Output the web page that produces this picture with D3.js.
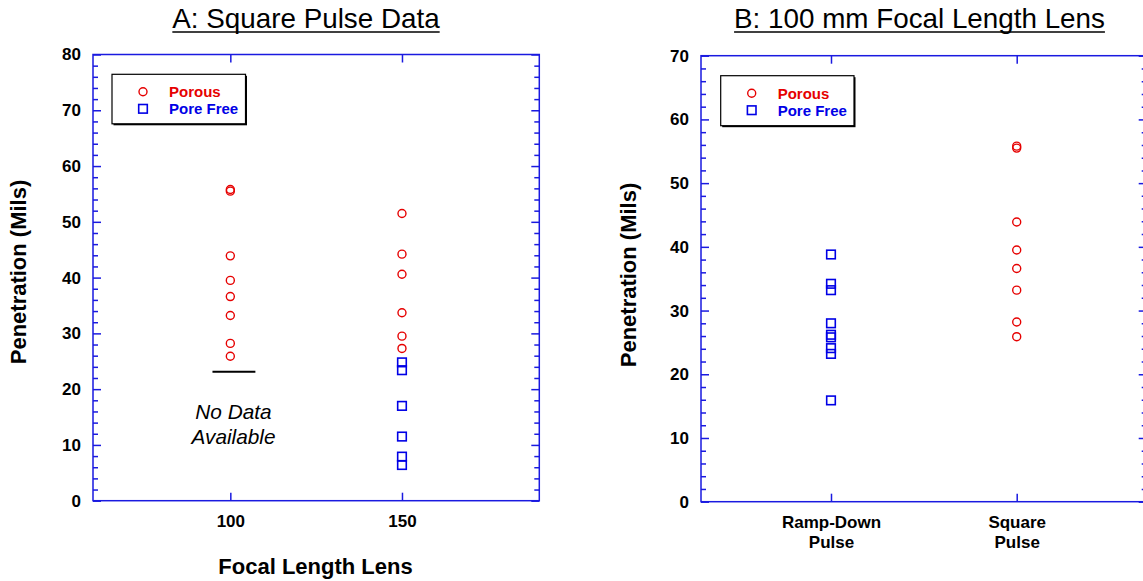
<!DOCTYPE html>
<html>
<head>
<meta charset="utf-8">
<script src="https://cdn.jsdelivr.net/npm/d3@7"></script>
<style>
  html, body { margin: 0; padding: 0; background: #fff; }
  svg { display: block; font-family: "Liberation Sans", Arial, Helvetica, sans-serif; }
</style>
</head>
<body>
<svg id="chart" width="1143" height="581"></svg>
<script>
// ---- Panel A: square pulse data by focal length ----
const focalLengths = [100, 150];
const porous100 = [55.8, 55.5, 43.9, 39.5, 36.6, 33.2, 28.2, 25.9];
const porous150 = [51.5, 44.2, 40.6, 33.7, 29.5, 27.3];
const poreFree150 = [24.8, 23.4, 17.0, 11.5, 7.9, 6.4];
const noDataSpan = [94.8, 107.3];
const noDataLevel = 23.1;
const yTicksA = [0, 10, 20, 30, 40, 50, 60, 70, 80];

// ---- Panel B: 100 mm focal length lens by pulse shape ----
const pulseTypes = ["Ramp-Down Pulse", "Square Pulse"];
const poreFreeRamp = [38.8, 34.2, 33.2, 28.0, 26.2, 25.8, 24.1, 23.2, 15.9];
const porousSquare = [55.8, 55.5, 43.9, 39.5, 36.6, 33.2, 28.2, 25.9];
const yTicksB = [0, 10, 20, 30, 40, 50, 60, 70];

const seriesNames = ["Porous", "Pore Free"];

const RED = "#e60000";
const BLUE = "#0000e6";
const AXIS = "#1a1ae0";

const svg = d3.select("#chart");

function minorTicks(max) {
  return d3.range(0, max + 0.001, 2).filter(v => v % 10 !== 0);
}

function drawPanel(opt) {
  const { x, y, left, right, top, bottom, majors, catTicks } = opt;
  const g = svg.append("g");

  // frame
  g.append("rect")
    .attr("x", left).attr("y", top)
    .attr("width", right - left).attr("height", bottom - top)
    .attr("fill", "none").attr("stroke", AXIS).attr("stroke-width", 1.5);

  // left axis, ticks pointing inward
  const la = g.append("g").attr("transform", `translate(${left},0)`)
    .call(d3.axisLeft(y).tickValues(majors).tickSize(-8).tickPadding(12).tickFormat(d3.format("d")));
  const lm = g.append("g").attr("transform", `translate(${left},0)`)
    .call(d3.axisLeft(y).tickValues(minorTicks(majors[majors.length - 1])).tickSize(-5).tickFormat(""));
  // right axis
  const ra = g.append("g").attr("transform", `translate(${right},0)`)
    .call(d3.axisRight(y).tickValues(majors).tickSize(-8).tickFormat(""));
  const rm = g.append("g").attr("transform", `translate(${right},0)`)
    .call(d3.axisRight(y).tickValues(minorTicks(majors[majors.length - 1])).tickSize(-5).tickFormat(""));
  // bottom & top category ticks
  const ba = g.append("g").attr("transform", `translate(0,${bottom})`)
    .call(d3.axisBottom(x).tickValues(catTicks).tickSize(-8).tickPadding(14.5));
  const ta = g.append("g").attr("transform", `translate(0,${top})`)
    .call(d3.axisTop(x).tickValues(catTicks).tickSize(-8).tickFormat(""));

  [la, lm, ra, rm, ba, ta].forEach(a => {
    a.select(".domain").remove();
    a.selectAll(".tick line").attr("stroke", AXIS).attr("stroke-width", 1.5);
    a.selectAll("text").attr("fill", "#000").attr("font-size", 17)
      .attr("font-weight", "bold").attr("font-family", null);
  });
  return { g, ba };
}

function circles(g, xPos, yScale, vals) {
  g.selectAll(null).data(vals).enter().append("circle")
    .attr("cx", xPos).attr("cy", d => yScale(d)).attr("r", 4)
    .attr("fill", "none").attr("stroke", RED).attr("stroke-width", 1.4);
}
function squares(g, xPos, yScale, vals) {
  g.selectAll(null).data(vals).enter().append("rect")
    .attr("x", xPos - 4.3).attr("y", d => yScale(d) - 4.3)
    .attr("width", 8.6).attr("height", 8.6)
    .attr("fill", "none").attr("stroke", BLUE).attr("stroke-width", 1.6);
}

function legend(g, bx, by, bw, bh) {
  g.append("rect").attr("x", bx + 1.5).attr("y", by + 1.5).attr("width", bw).attr("height", bh)
    .attr("fill", "#000");
  g.append("rect").attr("x", bx).attr("y", by).attr("width", bw).attr("height", bh)
    .attr("fill", "#fff").attr("stroke", "#000").attr("stroke-width", 1.2);
  const mx = bx + 31, tx = bx + 57;
  const y1 = by + 17.5, y2 = by + 34.5;
  g.append("circle").attr("cx", mx).attr("cy", y1).attr("r", 4)
    .attr("fill", "none").attr("stroke", RED).attr("stroke-width", 1.4);
  g.append("rect").attr("x", mx - 4.3).attr("y", y2 - 4.3).attr("width", 8.6).attr("height", 8.6)
    .attr("fill", "none").attr("stroke", BLUE).attr("stroke-width", 1.6);
  g.append("text").attr("x", tx).attr("y", y1 + 5.3).attr("fill", RED)
    .attr("font-size", 15).attr("font-weight", "bold").text(seriesNames[0]);
  g.append("text").attr("x", tx).attr("y", y2 + 5.3).attr("fill", BLUE)
    .attr("font-size", 15).attr("font-weight", "bold").text(seriesNames[1]);
}

function title(cx, text) {
  const t = svg.append("text").attr("x", cx).attr("y", 28).attr("text-anchor", "middle")
    .attr("font-size", 27.8).attr("fill", "#000").text(text);
  const w = t.node().getComputedTextLength();
  svg.append("line").attr("x1", cx - w / 2).attr("x2", cx + w / 2)
    .attr("y1", 32).attr("y2", 32).attr("stroke", "#000").attr("stroke-width", 1.6);
}

function yTitle(cx, cy) {
  svg.append("text").attr("transform", `translate(${cx},${cy}) rotate(-90)`)
    .attr("text-anchor", "middle").attr("font-size", 22).attr("font-weight", "bold")
    .attr("fill", "#000").text("Penetration (Mils)");
}

// ===== Panel A =====
const A = { left: 93, right: 539.3, top: 54.5, bottom: 500.7 };
const xA = d3.scaleLinear().domain([60, 190]).range([A.left, A.right]);
const yA = d3.scaleLinear().domain([0, 80]).range([A.bottom, A.top]);
const pA = drawPanel({ x: xA, y: yA, ...A, majors: yTicksA, catTicks: focalLengths });

circles(pA.g, xA(focalLengths[0]), yA, porous100);
circles(pA.g, xA(focalLengths[1]), yA, porous150);
squares(pA.g, xA(focalLengths[1]), yA, poreFree150);

pA.g.append("line")
  .attr("x1", xA(noDataSpan[0])).attr("x2", xA(noDataSpan[1]))
  .attr("y1", yA(noDataLevel)).attr("y2", yA(noDataLevel))
  .attr("stroke", "#000").attr("stroke-width", 2);
const nd = pA.g.append("text").attr("text-anchor", "middle").attr("font-size", 20.8)
  .attr("font-style", "italic").attr("fill", "#000");
nd.append("tspan").attr("x", 233.5).attr("y", 418.5).text("No Data");
nd.append("tspan").attr("x", 233.5).attr("y", 443.5).text("Available");

legend(pA.g, 112, 74.3, 133.5, 49.5);
title(306, "A: Square Pulse Data");
yTitle(26, 272);
svg.append("text").attr("x", 315.5).attr("y", 573.5).attr("text-anchor", "middle")
  .attr("font-size", 22).attr("font-weight", "bold").attr("fill", "#000")
  .text("Focal Length Lens");

// ===== Panel B =====
const B = { left: 701, right: 1146.7, top: 55.7, bottom: 501.7 };
const xB = d3.scalePoint().domain(pulseTypes).range([B.left, B.right]).padding(0.7);
const yB = d3.scaleLinear().domain([0, 70]).range([B.bottom, B.top]);
const pB = drawPanel({ x: xB, y: yB, ...B, majors: yTicksB, catTicks: pulseTypes });

// two-line category labels
pB.ba.selectAll(".tick text").each(function (d) {
  const t = d3.select(this);
  const parts = d.split(" ");
  t.text(null);
  parts.forEach((p, i) => {
    t.append("tspan").attr("x", 0).attr("dy", i === 0 ? "0.71em" : "1.18em").text(p);
  });
}).attr("dy", null);

squares(pB.g, xB(pulseTypes[0]), yB, poreFreeRamp);
circles(pB.g, xB(pulseTypes[1]), yB, porousSquare);

legend(pB.g, 720.7, 75.7, 133.3, 50);
title(919.5, "B: 100 mm Focal Length Lens");
yTitle(636, 275);
</script>
</body>
</html>
